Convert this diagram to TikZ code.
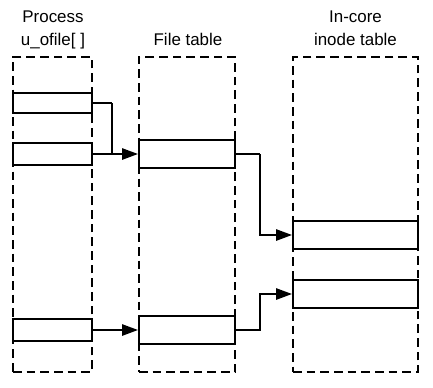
\documentclass[tikz,border=0pt]{standalone}
\usepackage{fontspec}
\setmainfont{Liberation Sans}
\usetikzlibrary{arrows.meta,positioning,calc}
\tikzset{
  ut/column/.style={
    draw=black,
    line width=1.2pt,
    dash pattern=on 6.5pt off 3.75pt,
    minimum height=236.25pt,
    inner sep=0pt
  },
  ut/entry/.style={
    draw=black,
    line width=1.5pt,
    fill=white,
    inner sep=0pt
  },
  ut/title/.style={
    font=\fontsize{12.7}{17.25}\selectfont,
    align=center,
    anchor=south,
    inner sep=0pt,
    text depth=0pt
  },
  ut/thinline/.style={line width=0.8pt, draw=black},
  ut/line/.style={line width=1.4pt, draw=black},
  ut/arrow/.style={-{Triangle[length=12pt,width=8.5pt]}, line width=1.4pt, draw=black}
}
\begin{document}
\begin{tikzpicture}[x=0.75pt,y=-0.75pt]
  \useasboundingbox (0,0) rectangle (433,387);
  % dashed tables
  \node[ut/column,minimum width=59.25pt] (procCol) at (52.5,214.5) {};
  \node[ut/column,minimum width=72pt] (fileCol) at (187,214.5) {};
  \node[ut/column,minimum width=93.75pt] (inodeCol) at (355.5,214.5) {};
  % headings
  \node[ut/title] (procTitle) at (53,46) {Process\\u\_ofile[ ]};
  \node[ut/title] (fileTitle) at (188,46) {File table};
  \node[ut/title] (inodeTitle) at (355.5,46) {In-core\\inode table};
  % entries
  \node[ut/entry,minimum width=59.25pt,minimum height=15pt] (proc1) at (52.5,103) {};
  \node[ut/entry,minimum width=59.25pt,minimum height=16.5pt] (proc2) at (52.5,154) {};
  \node[ut/entry,minimum width=59.25pt,minimum height=16.5pt] (proc3) at (52.5,330) {};
  \node[ut/entry,minimum width=72pt,minimum height=21pt] (file1) at (187,154) {};
  \node[ut/entry,minimum width=72pt,minimum height=21pt] (file2) at (187,330) {};
  \node[ut/entry,minimum width=93.75pt,minimum height=21pt] (inode1) at (355.5,235) {};
  \node[ut/entry,minimum width=93.75pt,minimum height=21pt] (inode2) at (355.5,294) {};
  % pointers
  \coordinate (join) at (112,154);
  \coordinate (bend) at (260,0);
  \draw[ut/thinline] (proc1.east) -- (proc1.east -| join);
  \draw[ut/line] (proc1.east -| join) -- (join);
  \draw[ut/arrow] (proc2.east) -- (file1.west);
  \draw[ut/arrow] (proc3.east) -- (file2.west);
  \draw[ut/thinline] (file1.east) -- (file1.east -| bend);
  \draw[ut/arrow] (file1.east -| bend) |- (inode1.west);
  \draw[ut/arrow] (file2.east) -- (file2.east -| bend) |- (inode2.west);
\end{tikzpicture}
\end{document}
